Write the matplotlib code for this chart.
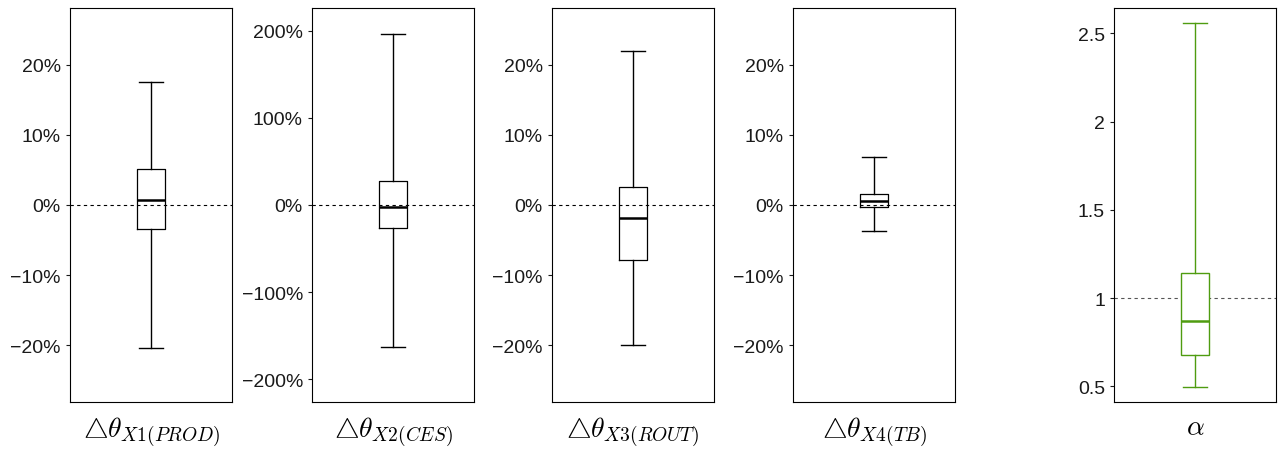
import matplotlib.pyplot as plt
from matplotlib.ticker import PercentFormatter, FuncFormatter

plt.rcParams['font.family'] = ['Liberation Sans', 'DejaVu Sans']
plt.rcParams['mathtext.fontset'] = 'cm'

# Box statistics: whislo, q1, median, q3, whishi
labels = [r'$\bigtriangleup\theta_{X1(PROD)}$', r'$\bigtriangleup\theta_{X2(CES)}$',
          r'$\bigtriangleup\theta_{X3(ROUT)}$', r'$\bigtriangleup\theta_{X4(TB)}$',
          r'$\alpha$']
whislo = [-0.204, -1.63, -0.199, -0.037, 0.496]
q1 = [-0.034, -0.264, -0.079, -0.003, 0.677]
med = [0.007, -0.023, -0.019, 0.006, 0.870]
q3 = [0.051, 0.276, 0.026, 0.016, 1.142]
whishi = [0.176, 1.966, 0.219, 0.069, 2.558]
ylims = [(-0.281, 0.281), (-2.26, 2.26), (-0.281, 0.281), (-0.281, 0.281), (0.411, 2.643)]
yticks = [[-0.2, -0.1, 0, 0.1, 0.2], [-2, -1, 0, 1, 2], [-0.2, -0.1, 0, 0.1, 0.2],
          [-0.2, -0.1, 0, 0.1, 0.2], [0.5, 1, 1.5, 2, 2.5]]
refs = [0, 0, 0, 0, 1]
colors = ['black', 'black', 'black', 'black', '#4f9c10']

W, H = 1283, 452
fig = plt.figure(figsize=(W / 100, H / 100), dpi=100)
lefts = [70, 312, 552, 793, 1114]

for i in range(5):
    ax = fig.add_axes([lefts[i] / W, (H - 403) / H, 162 / W, 394 / H])
    c = colors[i]
    stats = [dict(whislo=whislo[i], q1=q1[i], med=med[i], q3=q3[i], whishi=whishi[i])]
    filled = i == 4
    ax.bxp(stats, positions=[1], widths=0.35, capwidths=0.3, showfliers=False,
           patch_artist=filled,
           boxprops=dict(edgecolor=c, lw=1.0, facecolor='white') if filled else dict(color=c, lw=0.9),
           whiskerprops=dict(color=c, lw=1.0), capprops=dict(color=c, lw=1.0),
           medianprops=dict(color=c, lw=1.8))
    ax.axhline(refs[i], color='black' if i < 4 else '#555555', ls=(0, (3, 3)), lw=0.8, zorder=0)
    ax.set_xlim(0, 2)
    ax.set_ylim(*ylims[i])
    ax.set_yticks(yticks[i])
    if i < 4:
        ax.yaxis.set_major_formatter(PercentFormatter(1, decimals=0))
    else:
        ax.yaxis.set_major_formatter(FuncFormatter(lambda v, p: f'{v:g}'))
    ax.set_xticks([])
    ax.tick_params(axis='y', labelsize=14, length=3, width=0.8, colors='#1a1a1a')
    for s in ax.spines.values():
        s.set_linewidth(0.8)
    ax.set_xlabel(labels[i], fontsize=20, labelpad=9)

fig.savefig('out.png', dpi=100)
